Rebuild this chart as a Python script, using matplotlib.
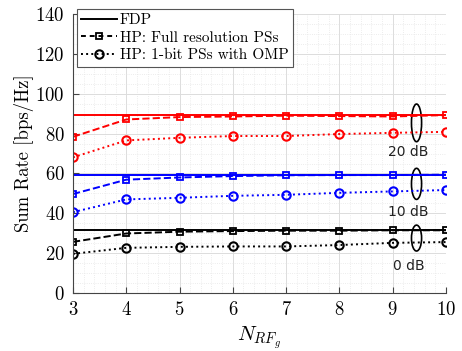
import matplotlib
matplotlib.use("Agg")
import matplotlib.pyplot as plt
from matplotlib.patches import Ellipse
from matplotlib.ticker import MultipleLocator

plt.rcParams['font.family'] = ['cmr10', 'DejaVu Serif']
plt.rcParams['mathtext.fontset'] = 'cm'
plt.rcParams['axes.formatter.use_mathtext'] = True

# number of RF chains per group
n_rf = [3, 4, 5, 6, 7, 8, 9, 10]

# fully digital precoding (flat per SNR)
fdp = {'0 dB': 31.4, '10 dB': 59.4, '20 dB': 89.3}

# hybrid precoding, full resolution phase shifters
hp_full = {
    '0 dB': [25.7, 29.9, 30.8, 31.1, 31.3, 31.3, 31.5, 31.5],
    '10 dB': [49.7, 56.9, 58.0, 58.7, 59.1, 59.2, 59.2, 59.4],
    '20 dB': [78.4, 87.1, 88.3, 88.6, 89.0, 88.8, 88.6, 89.3],
}

# hybrid precoding, 1-bit phase shifters with OMP
hp_1bit = {
    '0 dB': [19.7, 22.7, 23.2, 23.4, 23.4, 24.1, 25.2, 25.6],
    '10 dB': [40.6, 47.0, 47.8, 48.8, 49.3, 50.3, 51.0, 51.7],
    '20 dB': [68.1, 76.6, 77.9, 78.8, 78.8, 79.8, 80.4, 80.9],
}

snr_colors = {'0 dB': 'black', '10 dB': 'blue', '20 dB': 'red'}

# ellipse centre / height and label position for each SNR group
ell = {'0 dB': (27.6, 13.0, 13.7), '10 dB': (54.8, 15.6, 40.8), '20 dB': (85.4, 18.9, 70.9)}

fig = plt.figure(figsize=(4.62, 3.51), dpi=100)
ax = fig.add_axes([0.158, 0.165, 0.807, 0.795])

for snr in ['20 dB', '10 dB', '0 dB']:
    c = snr_colors[snr]
    ax.plot([n_rf[0], n_rf[-1]], [fdp[snr], fdp[snr]], '-', color=c, lw=1.4)
    ax.plot(n_rf, hp_full[snr], '--', color=c, lw=1.4, marker='s', ms=5,
            mfc='none', mew=1.3)
    ax.plot(n_rf, hp_1bit[snr], ':', color=c, lw=1.4, marker='o', ms=6,
            mfc='none', mew=1.5)
    yc, h, ylab = ell[snr]
    ax.add_patch(Ellipse((9.45, yc), 0.19, h, fill=False, ec='black', lw=1.2))
    ax.text(9.3, ylab, snr, family='DejaVu Sans', fontsize=10,
            ha='center', va='center', color='#222222')

# legend entries in black
h1, = ax.plot([], [], '-', color='black', lw=1.4)
h2, = ax.plot([], [], '--', color='black', lw=1.4, marker='s', ms=5,
              mfc='none', mew=1.3, dashes=(2.5, 2))
h3, = ax.plot([], [], ':', color='black', lw=1.4, marker='o', ms=6,
              mfc='none', mew=1.5)
leg = ax.legend([h1, h2, h3], ['FDP', 'HP: Full resolution PSs',
                               'HP: 1-bit PSs with OMP'],
                loc='upper left', bbox_to_anchor=(-0.002, 1.035), fontsize=11,
                handlelength=2.3, handletextpad=0.2, numpoints=1,
                fancybox=False, framealpha=1, edgecolor='#555555',
                borderpad=0.3, labelspacing=0.25, borderaxespad=0.3)
leg.get_frame().set_linewidth(0.8)

ax.set_xlim(3, 10)
ax.set_ylim(0, 140)
ax.xaxis.set_major_locator(MultipleLocator(1))
ax.xaxis.set_minor_locator(MultipleLocator(0.2))
ax.yaxis.set_major_locator(MultipleLocator(20))
ax.yaxis.set_minor_locator(MultipleLocator(5))
ax.grid(which='major', color='#dcdcdc', lw=0.7, ls='-')
ax.grid(which='minor', color='#e6e6e6', lw=0.6, ls=':')
ax.set_axisbelow(True)
ax.tick_params(which='both', direction='in', top=False, right=False,
               labelsize=13.5, color='#444444')
ax.tick_params(which='minor', length=0)
ax.tick_params(which='major', length=4, pad=6)
for s in ['top', 'right']:
    ax.spines[s].set_visible(False)
for s in ['left', 'bottom']:
    ax.spines[s].set_color('#444444')

ax.set_xlabel(r'$N_{RF_g}$', fontsize=15, labelpad=4)
ax.set_ylabel('Sum Rate [bps/Hz]', fontsize=13.5, labelpad=1)

fig.savefig('out.png', dpi=100)
